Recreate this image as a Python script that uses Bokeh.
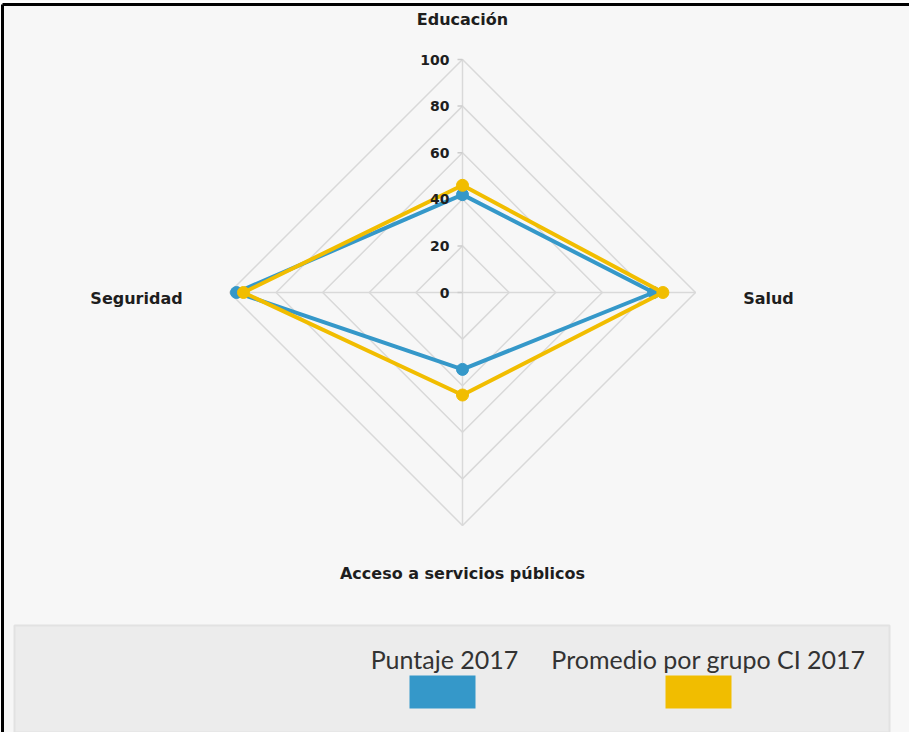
import numpy as np
from bokeh.plotting import figure
from bokeh.models import Range1d
from bokeh.core.properties import value
from bokeh.embed import file_html
from bokeh.resources import INLINE

# ---- data ----
categories = ["Educación", "Salud", "Acceso a servicios públicos", "Seguridad"]
puntaje_2017 = [42, 82, 33, 97]
promedio_grupo = [46, 86, 44, 94]
tick_values = [0, 20, 40, 60, 80, 100]
tick_labels = ["0", "20", "40", "60", "80", "100"]
series_names = ["Puntaje 2017", "Promedio por grupo CI 2017"]
series_colors = ["#3598c9", "#f1bd00"]

# ---- geometry (page pixels -> data units) ----
W, H = 909, 732
PX = 2.33            # pixels per value unit
CX, CY = 462, 292    # centre in figure pixels (from top-left)
x0 = -CX / PX
x1 = (W - CX) / PX
y1 = CY / PX
y0 = -(H - CY) / PX

def dx(px):  # figure pixel x -> data
    return x0 + px / PX

def dy(py):  # figure pixel y (from top) -> data
    return y1 - py / PX

p = figure(width=W, height=H, output_backend="svg", toolbar_location=None,
           x_range=Range1d(x0, x1), y_range=Range1d(y0, y1),
           min_border=0, outline_line_color=None,
           background_fill_color="#f7f7f7", border_fill_color="#f7f7f7")
p.axis.visible = False
p.grid.visible = False

# frame border (black line top & left, white outside)
p.quad(left=[x0, x0], right=[x1, dx(1)], top=[y1, y1], bottom=[dy(3), y0],
       fill_color="white", line_color=None)
p.segment(x0=[dx(2), dx(2)], y0=[dy(4), dy(4)], x1=[x1, dx(2)], y1=[dy(4), y0],
          line_color="black", line_width=3)

# legend panel
p.quad(left=[dx(14)], right=[dx(889)], top=[dy(625)], bottom=[y0],
       fill_color="#ececec", line_color="#e2e2e2", line_width=2)

# radar geometry
n = len(categories)
angles = np.pi / 2 - np.arange(n) * 2 * np.pi / n
cosA, sinA = np.cos(angles), np.sin(angles)

grid_col = "#d9d9d9"
for r in tick_values[1:]:
    xs = list(r * cosA) + [r * cosA[0]]
    ys = list(r * sinA) + [r * sinA[0]]
    p.line(xs, ys, line_color=grid_col, line_width=1.5)
top = tick_values[-1]
p.segment(x0=[0] * n, y0=[0] * n, x1=list(top * cosA), y1=list(top * sinA),
          line_color=grid_col, line_width=1.5)
# small tick marks on Educación spoke
p.segment(x0=[-5 / PX] * len(tick_values), y0=tick_values,
          x1=[0] * len(tick_values), y1=tick_values,
          line_color="#cccccc", line_width=1.5)

# series
for vals, col in zip([puntaje_2017, promedio_grupo], series_colors):
    v = np.array(vals, dtype=float)
    xs = v * cosA
    ys = v * sinA
    p.line(list(xs) + [xs[0]], list(ys) + [ys[0]], line_color=col, line_width=4,
           line_join="round")
    p.scatter(list(xs), list(ys), size=12, fill_color=col, line_color=col)

# tick labels (drawn above the series)
p.text(x=[-13 / PX] * len(tick_values), y=tick_values, text=tick_labels,
       text_align="right", text_baseline="middle",
       text_font=value("DejaVu Sans"), text_font_style="bold",
       text_font_size=value("14px"), text_color="#1e1e1e")

# category labels
lab_x = [0, dx(776 - 8), 0, dx(144 - 8)]
lab_y = [dy(27 - 8), 0 - 6 / PX, dy(581 - 8), 0 - 6 / PX]
p.text(x=lab_x, y=lab_y, text=categories, text_align="center",
       text_baseline="middle", text_font=value("DejaVu Sans"),
       text_font_style="bold", text_font_size=value("16px"),
       text_color="#1e1e1e")

# legend
leg_text_x = [dx(452 - 8), dx(716 - 8)]
p.text(x=leg_text_x, y=[dy(666 - 8)] * 2, text=series_names,
       text_align="center", text_baseline="middle",
       text_font=value("Lato"), text_font_size=value("25px"),
       text_color="#333333")
sw_cx = [450 - 8, 706 - 8]
p.quad(left=[dx(c - 33) for c in sw_cx], right=[dx(c + 33) for c in sw_cx],
       top=[dy(683 - 8)] * 2, bottom=[dy(716 - 8)] * 2,
       fill_color=series_colors, line_color=None)

open("out.html", "w").write(file_html(p, INLINE))
